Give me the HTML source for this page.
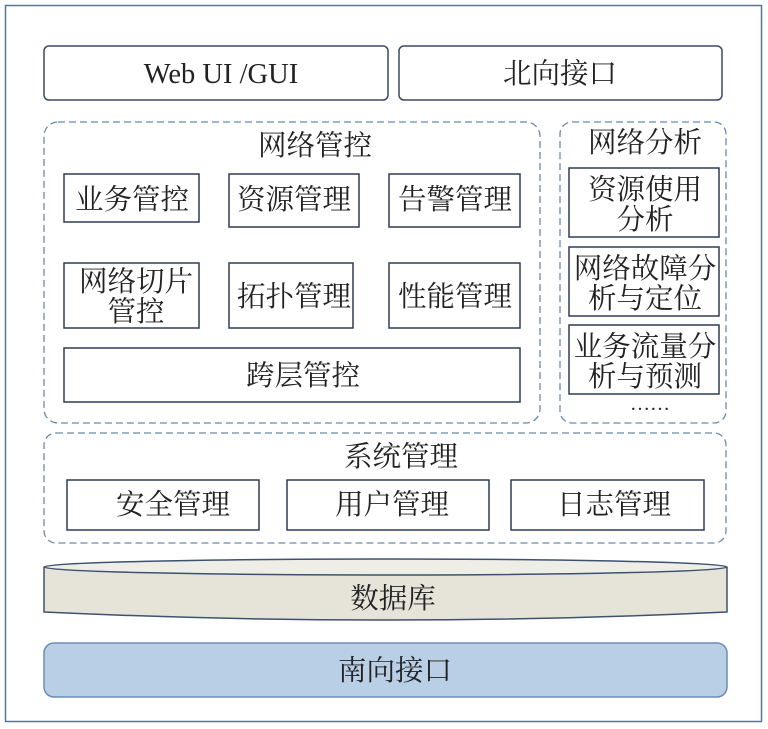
<!DOCTYPE html>
<html><head><meta charset="utf-8"><style>
html,body{margin:0;padding:0;background:#fff;}
svg{display:block;}
text{font-family:"Liberation Serif","Noto Serif CJK SC",serif;font-size:28.5px;fill:#222;text-anchor:middle;}
</style></head><body>
<svg width="768" height="729" viewBox="0 0 768 729" xmlns="http://www.w3.org/2000/svg">
<rect x="5.5" y="5.5" width="756" height="716" fill="#fff" stroke="#5a7594" stroke-width="1.5"/>
<g fill="#fff" stroke="#3a4a63" stroke-width="1.5">
<rect x="44" y="46" width="344" height="54" rx="5"/>
<rect x="399" y="46" width="323" height="54" rx="5"/>
</g>
<text x="221" y="83">Web UI /GUI</text>
<text x="560" y="83">北向接口</text>
<g fill="none" stroke="#6a8aaa" stroke-width="1.3" stroke-dasharray="7,4">
<rect x="44" y="122" width="496" height="301" rx="14"/>
<rect x="560" y="122" width="166" height="301" rx="12"/>
<rect x="44" y="433" width="682" height="110" rx="12"/>
</g>
<text x="315" y="155">网络管控</text>
<text x="645" y="152">网络分析</text>
<text x="401" y="466">系统管理</text>
<g fill="#fff" stroke="#2d3d55" stroke-width="1.5">
<rect x="64" y="174" width="135" height="48"/>
<rect x="229" y="174" width="130" height="53"/>
<rect x="389" y="174" width="131" height="53"/>
<rect x="64" y="263" width="135" height="65"/>
<rect x="229" y="263" width="124" height="65"/>
<rect x="389" y="263" width="131" height="65"/>
<rect x="64" y="348" width="456" height="54"/>
<rect x="569" y="168" width="150" height="69"/>
<rect x="569" y="247" width="150" height="69"/>
<rect x="569" y="325" width="150" height="69"/>
<rect x="67" y="480" width="192" height="50"/>
<rect x="287" y="480" width="202" height="50"/>
<rect x="511" y="480" width="193" height="50"/>
</g>
<text x="132" y="209">业务管控</text>
<text x="294" y="209">资源管理</text>
<text x="455" y="209">告警管理</text>
<text x="136" y="291">网络切片</text>
<text x="136" y="321">管控</text>
<text x="294" y="306">拓扑管理</text>
<text x="455" y="306">性能管理</text>
<text x="303" y="385">跨层管控</text>
<text x="645" y="199">资源使用</text>
<text x="645" y="229">分析</text>
<text x="645" y="278">网络故障分</text>
<text x="645" y="308">析与定位</text>
<text x="645" y="356">业务流量分</text>
<text x="645" y="386">析与预测</text>
<text x="650" y="410" style="font-size:20px">……</text>
<text x="173" y="514">安全管理</text>
<text x="392" y="514">用户管理</text>
<text x="614" y="514">日志管理</text>
<path d="M44,567 L44,612 Q385,628 727,612 L727,567" fill="#e6e4d9" stroke="#3d5270" stroke-width="1.5"/>
<ellipse cx="385.5" cy="567" rx="341.5" ry="8" fill="#eeede6" stroke="#3d5270" stroke-width="1.5"/>
<text x="393" y="608">数据库</text>
<rect x="44" y="643" width="683" height="54" rx="10" fill="#b8cfe6" stroke="#6a8db5" stroke-width="1.5"/>
<text x="395" y="680">南向接口</text>
</svg>
</body></html>
